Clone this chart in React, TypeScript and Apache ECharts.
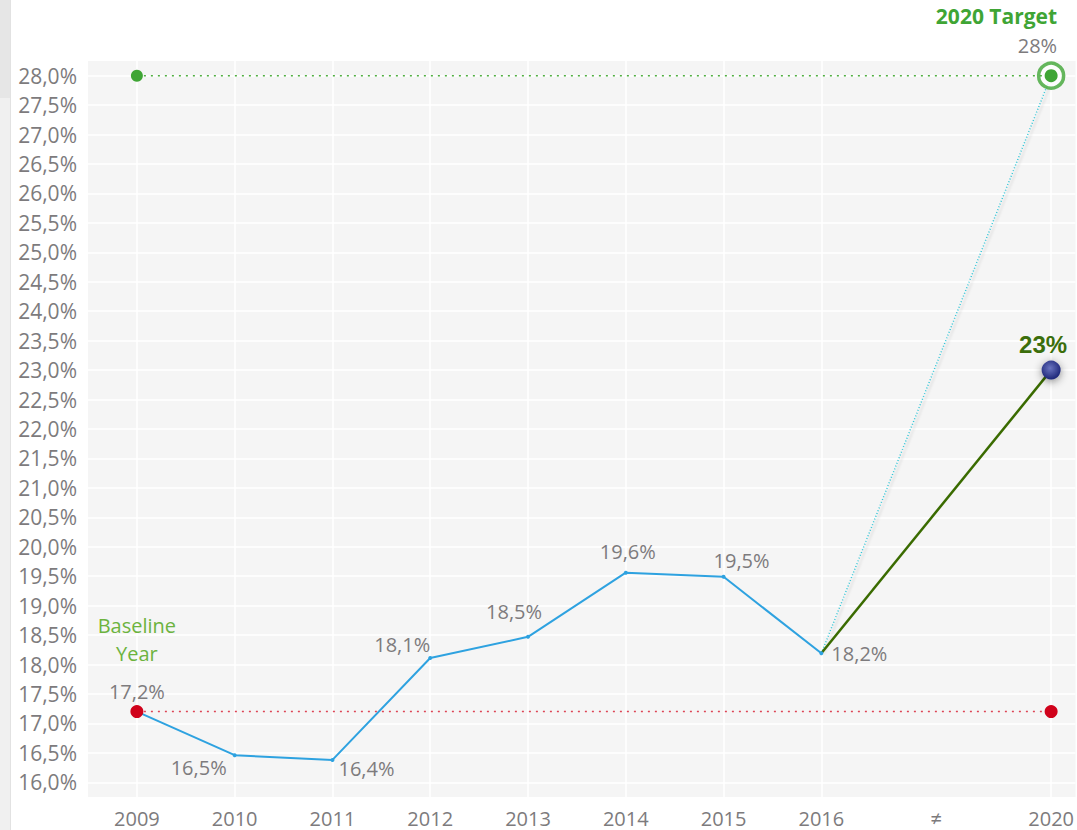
import React, { useEffect, useRef } from "react";
import * as echarts from "echarts";

// ---- data ----
const categories = ["2009", "2010", "2011", "2012", "2013", "2014", "2015", "2016"];
const actualValues = [17.2, 16.46, 16.38, 18.11, 18.47, 19.56, 19.49, 18.19];
const targetYearLabel = "2020";
const breakLabel = "≠";
const baselineValue = 17.2;
const targetValue = 28;
const projectedValue = 23;
// axis slot for each category (2016 -> 2020 gap is compressed by the axis break)
const categorySlots = [0, 1, 2, 3, 4, 5, 6, 7];
const targetSlot = 9.35;
const breakSlot = (7 + 9.35) / 2;

const FONT = "Open Sans";
const GRAY = "#7d7b7d";

// label placement for each actual point
const labelPlacement: any[] = [
  { position: "top", distance: 8, offset: [0, 0] },
  { position: "bottom", distance: 0, offset: [-36, 0] },
  { position: "right", distance: 4, offset: [0, 9] },
  { position: "top", distance: 2, offset: [-28, 0] },
  { position: "top", distance: 13, offset: [-14, 0] },
  { position: "top", distance: 9, offset: [2, 0] },
  { position: "top", distance: 4, offset: [18, 0] },
  { position: "right", distance: 8, offset: [0, 0] },
];

const fmt = (v: number) => v.toFixed(1).replace(".", ",") + "%";

export default function App() {
  const ref = useRef<HTMLDivElement>(null);
  useEffect(() => {
    if (!ref.current) return;
    const chart = echarts.init(ref.current, null, { renderer: "svg" });
    const slotLabels: Record<string, string> = {};
    categorySlots.forEach((s, i) => (slotLabels[String(s)] = categories[i]));
    slotLabels[String(breakSlot)] = breakLabel;
    slotLabels[String(targetSlot)] = targetYearLabel;

    const actualData = actualValues.map((v, i) => ({
      value: [categorySlots[i], v],
      label: { show: true, ...labelPlacement[i] },
    }));
    const last = categorySlots.length - 1;

    const option: any = {
      animation: false,
      backgroundColor: "#ffffff",
      textStyle: { fontFamily: FONT },
      grid: {
        left: 88,
        right: 0,
        top: 61,
        bottom: 33,
        show: true,
        backgroundColor: "#f5f5f5",
        borderWidth: 0,
      },
      graphic: [
        { type: "rect", left: 0, top: 0, shape: { width: 10, height: 830 }, style: { fill: "#f0f0f0" } },
        { type: "rect", left: 0, top: 0, shape: { width: 10, height: 98 }, style: { fill: "#e6e6e6" } },
        { type: "rect", left: 10, top: 0, shape: { width: 1, height: 830 }, style: { fill: "#e2e2e2" } },
      ],
      xAxis: {
        type: "value",
        min: -0.5,
        max: 9.6,
        axisLine: { show: false },
        axisTick: { show: false, customValues: [...categorySlots, targetSlot] },
        splitLine: { show: true, lineStyle: { color: "#ffffff", width: 1.5 } },
        axisLabel: {
          customValues: [...categorySlots, breakSlot, targetSlot],
          formatter: (v: number) => slotLabels[String(v)] ?? "",
          color: GRAY,
          fontSize: 20,
          fontFamily: FONT,
          margin: 11,
        },
      },
      yAxis: {
        type: "value",
        min: 15.75,
        max: 28.25,
        interval: 0.25,
        axisLine: { show: false },
        axisTick: { show: false },
        splitLine: {
          show: true,
          lineStyle: { color: ["rgba(0,0,0,0)", "#ffffff"], width: 1.5 },
        },
        axisLabel: {
          formatter: (v: number) => (Math.abs(v * 2 - Math.round(v * 2)) < 1e-9 ? fmt(v) : ""),
          color: GRAY,
          fontSize: 21,
          fontFamily: FONT,
          margin: 11,
        },
      },
      series: [
        {
          name: "Baseline",
          type: "line",
          data: [
            {
              value: [categorySlots[0], baselineValue],
              label: {
                show: true,
                position: "top",
                distance: 38,
                formatter: "{g|Baseline}\n{g|Year}",
                rich: { g: { color: "#6cb33e", fontSize: 20, fontFamily: FONT, lineHeight: 28 } },
              },
            },
            [targetSlot, baselineValue],
          ],
          symbol: "circle",
          symbolSize: 13,
          itemStyle: { color: "#d0021b" },
          lineStyle: { color: "#dd4455", width: 1.5, type: [2, 5] },
          z: 7,
        },
        {
          name: "Target",
          type: "line",
          data: [
            { value: [categorySlots[0], targetValue], symbolSize: 12 },
            {
              value: [targetSlot, targetValue],
              symbolSize: 13,
              label: {
                show: true,
                position: "top",
                distance: 10,
                align: "right",
                offset: [6, 0],
                formatter: "{t|2020 Target}\n{v|28%}",
                rich: {
                  t: { color: "#3fa535", fontSize: 21, fontWeight: "bold", fontFamily: FONT, lineHeight: 30, align: "right" },
                  v: { color: GRAY, fontSize: 20, fontFamily: FONT, lineHeight: 28, align: "right" },
                },
              },
            },
          ],
          symbol: "circle",
          itemStyle: { color: "#3fa535" },
          lineStyle: { color: "#4fae40", width: 1.5, type: [2, 5] },
          z: 4,
        },
        {
          name: "TargetRing",
          type: "scatter",
          data: [[targetSlot, targetValue]],
          symbol: "circle",
          symbolSize: 25,
          itemStyle: { color: "#ffffff", borderColor: "#3fa535", borderWidth: 3.5 },
          z: 3,
        },
        {
          name: "Path to target",
          type: "line",
          data: [
            [categorySlots[last], actualValues[last]],
            [targetSlot, targetValue],
          ],
          showSymbol: false,
          symbol: "none",
          lineStyle: {
            color: "#36c6d6",
            width: 1.5,
            type: [1, 2],
            shadowColor: "rgba(0,0,0,0.25)",
            shadowBlur: 2,
            shadowOffsetX: 3,
          },
          z: 2,
        },
        {
          name: "Projection",
          type: "line",
          data: [
            { value: [categorySlots[last], actualValues[last]], symbol: "none" },
            {
              value: [targetSlot, projectedValue],
              symbol: "circle",
              symbolSize: 19,
              label: {
                show: true,
                position: "top",
                distance: 4,
                offset: [-8, 0],
                formatter: () => projectedValue + "%",
                color: "#3b6e0b",
                fontSize: 24,
                fontWeight: "bold",
                fontFamily: "Liberation Sans",
              },
            },
          ],
          itemStyle: {
            color: new echarts.graphic.RadialGradient(0.45, 0.4, 0.6, [
              { offset: 0, color: "#6a74c0" },
              { offset: 1, color: "#1c2577" },
            ]),
            shadowColor: "rgba(0,0,0,0.45)",
            shadowBlur: 8,
            shadowOffsetY: 2,
          },
          lineStyle: { color: "#3a6b00", width: 2.5 },
          z: 5,
        },
        {
          name: "Actual",
          type: "line",
          data: actualData,
          symbol: "circle",
          symbolSize: 4,
          itemStyle: { color: "#2ea2e0" },
          lineStyle: { color: "#2ea2e0", width: 2 },
          label: {
            formatter: (p: any) => fmt(p.value[1]),
            color: GRAY,
            fontSize: 20,
            fontFamily: FONT,
          },
          z: 6,
        },
      ],
    };
    chart.setOption(option);
    return () => chart.dispose();
  }, []);
  return (
    <div
      ref={ref}
      style={{ position: "fixed", left: 0, top: 0, width: 1077, height: 830 }}
    />
  );
}
